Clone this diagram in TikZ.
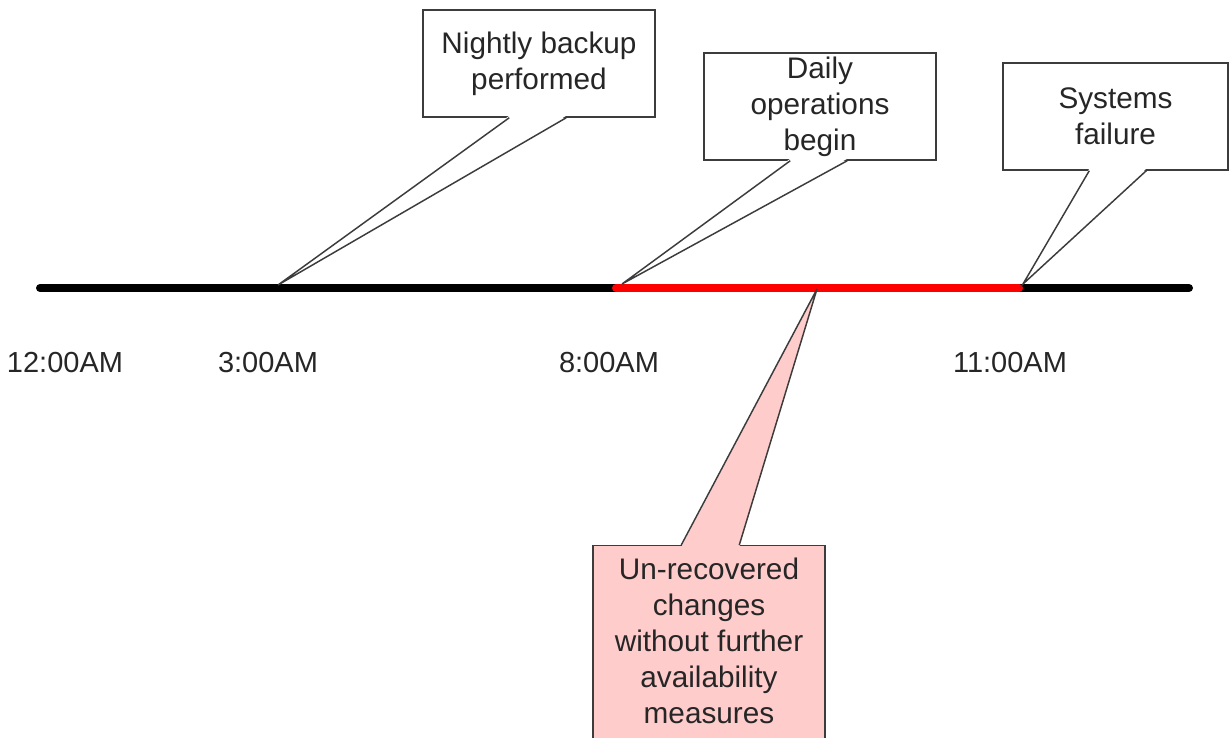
\documentclass[tikz,border=0pt]{standalone}
\usepackage{fontspec}
\setmainfont{Liberation Sans}
\usetikzlibrary{calc}
\definecolor{boxgray}{HTML}{3C3C3C}
\definecolor{textgray}{HTML}{262626}
\definecolor{lossred}{HTML}{FF0000}
\definecolor{losspink}{HTML}{FFCCCC}

\begin{document}
\begin{tikzpicture}[x=0.75pt,y=-0.75pt,
		callbox/.style={draw=boxgray,line width=1.1pt,fill=white,minimum width=174pt,minimum height=80.25pt,inner sep=0pt,align=center,text=textgray,font=\fontsize{22.3}{27}\selectfont},
		tail/.style={draw=boxgray,line width=1.1pt,line join=miter},
		ticklabel/.style={text=textgray,font=\fontsize{21.75}{27}\selectfont}]
	\clip (0,0) rectangle (1229,738);
	% timeline and its events
	\coordinate (start) at (40,288);
	\coordinate (end) at (1189,288);
	\coordinate (redstart) at (616,288);
	\coordinate (redend) at (1019,288);
	\draw[line width=6pt,line cap=round] (start) -- (end);
	\draw[line width=6pt,line cap=round,lossred] (redstart) -- (redend);
	\coordinate (t3) at (278,285);
	\coordinate (t8) at (622,284);
	\coordinate (t11) at (1023,284);
	\coordinate (tmid) at (817,289);
	% time labels
	\foreach \x/\t in {65/12:00AM,268/3:00AM,609/8:00AM,1010/11:00AM}
		\node[ticklabel] (lab\x) at (\x,363) {\t};
	% callouts above the line
	\node[callbox] (backup) at (539,63.5) {Nightly backup\\performed};
	\node[callbox] (daily) at (820,106.5) {Daily\\operations\\begin};
	\node[callbox,minimum width=168.75pt] (failure) at (1115.5,116.5) {Systems\\failure};
	\foreach \b/\t in {backup/t3,daily/t8,failure/t11} {
		\fill[white] ($(\b.south west)+(87,-2)$) -- (\t) -- ($(\b.south west)+(144,-2)$) -- cycle;
		\draw[tail] ($(\b.south west)+(87,0)$) -- (\t) -- ($(\b.south west)+(144,0)$);
	}
	% callout below the line
	\node[callbox,fill=losspink,anchor=north,minimum height=165pt] (recovered) at (709,545) {};
	\fill[losspink] ($(recovered.north west)+(89,2)$) -- (tmid) -- ($(recovered.north west)+(147,2)$) -- cycle;
	\draw[tail] ($(recovered.north west)+(89,0)$) -- (tmid) -- ($(recovered.north west)+(147,0)$);
	\node[text=textgray,align=center,font=\fontsize{22.3}{27}\selectfont] (losstext) at (709,640.5) {Un-recovered\\changes\\without further\\availability\\measures};
\end{tikzpicture}
\end{document}
